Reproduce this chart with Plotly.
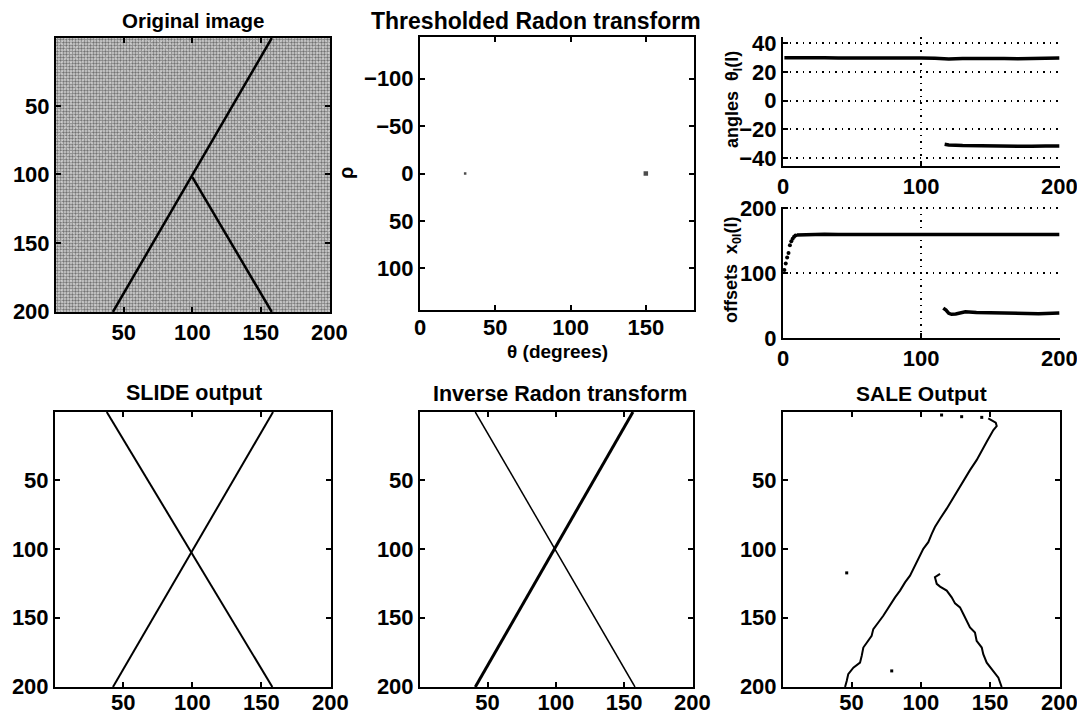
import plotly.graph_objects as go

# page body has an 8px margin; the figure is sized and positioned to compensate
PAGE_W, PAGE_H = 1085, 715
OFF = 8
W, H = PAGE_W - OFF, PAGE_H - OFF
FONT = "Liberation Sans"

# ---------------- data ----------------
IMG_LO, IMG_HI = 0.5, 200.5          # pixel-edge extent of the 200x200 images
img_ticks = [50, 100, 150, 200]

# Original image: two line segments (column x, row y)
orig_a_x = [158, 42];   orig_a_y = [0.5, 200.5]
orig_b_x = [100, 158];  orig_b_y = [102, 200.5]

# Thresholded Radon transform peaks
radon_theta = [30, 150]
radon_rho = [0, 0]
radon_xticks = [0, 50, 100, 150]
radon_yticks = [-100, -50, 0, 50, 100]

# Estimated angles theta_l(l)
ang1_l = [1, 10, 20, 30, 40, 50, 60, 70, 80, 90, 100, 110, 120, 130, 140, 150, 160, 170, 180, 190, 200]
ang1_v = [30.0, 30.1, 29.9, 30.0, 29.8, 29.9, 30.0, 29.8, 29.7, 29.8, 29.9, 29.6, 29.2, 29.5, 29.7, 29.8, 29.5, 29.3, 29.4, 29.7, 29.8]
ang2_l = [117, 120, 130, 140, 150, 160, 170, 180, 190, 200]
ang2_v = [-30.3, -30.8, -31.2, -31.4, -31.6, -31.8, -31.9, -31.8, -31.6, -31.5]

# Estimated offsets x_0l(l)
off1_dot_l = [1, 2, 3, 4, 5, 6, 7, 8, 9]
off1_dot_v = [105, 115, 124, 131, 143, 149, 153, 156, 158]
off1_l = [10, 20, 30, 40, 50, 60, 70, 80, 90, 100, 110, 120, 130, 140, 150, 160, 170, 180, 190, 200]
off1_v = [159, 160, 160, 159.5, 159.5, 159, 159, 159, 159, 159.5, 159.5, 159, 159, 159, 159, 159.5, 159.5, 159.5, 159.5, 159.5]
off2_l = [116, 118, 120, 122, 125, 128, 132, 140, 150, 160, 170, 176, 185, 200]
off2_v = [46, 43, 38, 36.5, 37, 38.5, 40.5, 39.5, 39, 38.5, 38, 37, 37.5, 38.5]

# SLIDE output lines
slide_a_x = [158.5, 42.5]; slide_a_y = [0.5, 200.5]
slide_b_x = [38, 158];     slide_b_y = [0.5, 200.5]

# Inverse Radon transform lines
inv_a_x = [156.5, 41];     inv_a_y = [0.5, 200.5]
inv_b_x = [41, 158];       inv_b_y = [0.5, 200.5]

# SALE output traced curves
sale1_x = [148.7, 154.1, 154.8, 152.4, 147.6, 145.1, 140.3, 135.5, 131.9, 128.3, 123.5, 118.7, 113.9, 110.2,
           107.9, 105.4, 101.8, 99.4, 97.5, 94.6, 92.2, 88.6, 85.0, 81.4, 77.8, 72.9, 69.3, 65.7, 64.5, 62.1,
           58.5, 57.3, 56.1, 51.3, 47.6, 46.5, 45.3]
sale1_y = [5.1, 8.3, 10.7, 13.6, 22.2, 27.0, 35.5, 42.8, 48.9, 55.0, 62.3, 70.8, 78.1, 84.2,
           89.1, 95.2, 100.0, 104.9, 109.8, 114.6, 119.5, 124.4, 130.4, 135.3, 141.4, 148.7, 153.6, 158.4, 163.3, 166.9,
           171.8, 177.9, 182.8, 186.4, 191.2, 196.1, 200.5]
sale2_x = [113.9, 110.2, 111.5, 113.9, 118.7, 122.3, 124.7, 128.3, 130.7, 133.1, 135.5, 139.1, 140.3, 144.0,
           145.1, 147.6, 152.4, 156.0, 158.4]
sale2_y = [118.2, 120.7, 125.5, 127.5, 130.4, 135.3, 139.7, 142.6, 147.4, 152.3, 157.2, 160.9, 166.9, 171.8,
           176.6, 182.8, 188.8, 193.7, 200.5]
sale_dots_x = [46.5, 79, 115, 129.5, 144]
sale_dots_y = [117.5, 188.8, 2.7, 3.9, 4.4]

# ---------------- layout helpers ----------------
def dom_x(a, b):
    return [(a - OFF) / W, (b - OFF) / W]

def dom_y(top, bottom):
    return [1 - (bottom - OFF) / H, 1 - (top - OFF) / H]

tickfont = dict(family=FONT, size=22, color="black", weight="bold")

def box_axes(domx, domy, xr, yr, xt, yt, xstand=0):
    common = dict(showline=True, linewidth=2, linecolor="black", mirror="allticks",
                  ticks="inside", ticklen=5, tickwidth=1.5, tickcolor="black",
                  showgrid=False, zeroline=False, tickfont=tickfont, automargin=False)
    xa = dict(domain=domx, range=xr, tickvals=xt, ticklabelstandoff=xstand, **common)
    ya = dict(domain=domy, range=yr, tickvals=yt, **common)
    return xa, ya

def grid_axes(domx, domy, xr, yr, xt, yt):
    common = dict(showline=True, linewidth=2, linecolor="black", mirror=False,
                  ticks="inside", ticklen=5, tickwidth=1.5, tickcolor="black",
                  showgrid=True, gridcolor="black", gridwidth=1.5, griddash="1.5px,5px",
                  zeroline=False, tickfont=tickfont, automargin=False)
    xa = dict(domain=domx, range=xr, tickvals=xt, **common)
    ya = dict(domain=domy, range=yr, tickvals=yt, **common)
    return xa, ya

fig = go.Figure()

def line(x, y, xa, ya, width=2.5, mode="lines", msize=4, symbol="circle"):
    fig.add_trace(go.Scatter(x=x, y=y, xaxis=xa, yaxis=ya, mode=mode,
                             line=dict(color="black", width=width),
                             marker=dict(color="black", size=msize, symbol=symbol),
                             showlegend=False, hoverinfo="skip"))

# Panel 1: original noisy image (texture drawn as a dotted pattern fill)
frame_x = [IMG_LO, IMG_HI, IMG_HI, IMG_LO, IMG_LO]
frame_y = [IMG_LO, IMG_LO, IMG_HI, IMG_HI, IMG_LO]
fig.add_trace(go.Scatter(x=frame_x, y=frame_y, xaxis="x", yaxis="y", mode="lines", fill="toself",
                         line=dict(width=0, color="rgba(0,0,0,0)"),
                         fillcolor="#c8c8c8",
                         fillpattern=dict(shape=".", bgcolor="#d4d4d4", fgcolor="#101010", size=3, solidity=0.5),
                         showlegend=False, hoverinfo="skip"))
fig.add_trace(go.Scatter(x=frame_x, y=frame_y, xaxis="x", yaxis="y", mode="lines", fill="toself",
                         line=dict(width=0, color="rgba(0,0,0,0)"),
                         fillcolor="rgba(0,0,0,0)",
                         fillpattern=dict(shape="x", bgcolor="rgba(0,0,0,0)", fgcolor="rgba(255,255,255,0.55)", size=7, solidity=0.25),
                         showlegend=False, hoverinfo="skip"))
line(orig_a_x, orig_a_y, "x", "y", 2.5)
line(orig_b_x, orig_b_y, "x", "y", 2.5)

# Panel 2: thresholded Radon transform
fig.add_trace(go.Scatter(x=radon_theta, y=radon_rho, xaxis="x2", yaxis="y2", mode="markers",
                         marker=dict(color="black", size=[2.5, 4.5], symbol="square", line=dict(width=0)),
                         showlegend=False, hoverinfo="skip"))

# Panel 3a: angles
line(ang1_l, ang1_v, "x3", "y3", 3.5)
line(ang2_l, ang2_v, "x3", "y3", 3.5)

# Panel 3b: offsets
line(off1_dot_l, off1_dot_v, "x4", "y4", mode="markers", msize=4)
line(off1_l, off1_v, "x4", "y4", 3.5)
line(off2_l, off2_v, "x4", "y4", 3.5)

# Panel 4: SLIDE output
line(slide_a_x, slide_a_y, "x5", "y5", 2)
line(slide_b_x, slide_b_y, "x5", "y5", 2)

# Panel 5: inverse Radon
line(inv_a_x, inv_a_y, "x6", "y6", 3)
line(inv_b_x, inv_b_y, "x6", "y6", 1.5)

# Panel 6: SALE output
line(sale1_x, sale1_y, "x7", "y7", 2)
line(sale2_x, sale2_y, "x7", "y7", 2)
fig.add_trace(go.Scatter(x=sale_dots_x, y=sale_dots_y, xaxis="x7", yaxis="y7", mode="markers",
                         marker=dict(color="black", size=3, symbol="square"),
                         showlegend=False, hoverinfo="skip"))

layout = dict(width=W, height=H, margin=dict(l=0, r=0, t=0, b=0, autoexpand=False),
              paper_bgcolor="white", plot_bgcolor="white",
              font=dict(family=FONT, color="black"))

xa, ya = box_axes(dom_x(56, 330), dom_y(38, 312), [IMG_LO, IMG_HI], [IMG_HI, IMG_LO], img_ticks, img_ticks)
layout["xaxis"] = dict(xa, anchor="y"); layout["yaxis"] = dict(ya, anchor="x")

xa, ya = box_axes(dom_x(420, 694), dom_y(37, 310), [0, 182], [144, -144], radon_xticks, radon_yticks, xstand=-3)
layout["xaxis2"] = dict(xa, anchor="y2"); layout["yaxis2"] = dict(ya, anchor="x2")

xa, ya = grid_axes(dom_x(783, 1060), dom_y(37, 166), [0, 200.5], [-45.5, 44.5], [0, 100, 200], [-40, -20, 0, 20, 40])
layout["xaxis3"] = dict(xa, anchor="y3"); layout["yaxis3"] = dict(ya, anchor="x3")

xa, ya = grid_axes(dom_x(783, 1060), dom_y(207, 338), [0, 200.5], [0, 202], [0, 100, 200], [0, 100, 200])
layout["xaxis4"] = dict(xa, anchor="y4"); layout["yaxis4"] = dict(ya, anchor="x4")

for i, (l, r) in zip([5, 6, 7], [(55, 331), (420, 693), (783, 1060)]):
    xa, ya = box_axes(dom_x(l, r), dom_y(412, 687), [IMG_LO, IMG_HI], [IMG_HI, IMG_LO], img_ticks, img_ticks, xstand=-5)
    layout[f"xaxis{i}"] = dict(xa, anchor=f"y{i}"); layout[f"yaxis{i}"] = dict(ya, anchor=f"x{i}")

def ann(text, px, py, angle=0, size=20):
    return dict(text=text, x=(px - OFF) / W, y=1 - (py - OFF) / H, xref="paper", yref="paper",
                showarrow=False, xanchor="center", yanchor="middle", textangle=angle,
                font=dict(family=FONT, size=size, color="black", weight="bold"))

layout["annotations"] = [
    ann("Original image", 193, 21, size=20.5),
    ann("Thresholded Radon transform", 536, 21, size=23),
    ann("SLIDE output", 194, 393, size=21.5),
    ann("Inverse Radon transform", 560, 394, size=21.5),
    ann("SALE Output", 921, 393, size=21),
    ann("θ (degrees)", 557, 351, size=19),
    ann("ρ", 346, 173, angle=-90, size=20),
    ann("angles  θ<sub>l</sub>(l)", 733, 100, angle=-90, size=18),
    ann("offsets  x<sub>0l</sub>(l)", 733, 270, angle=-90, size=18),
]

fig.update_layout(**layout)
fig.write_html("out.html")
